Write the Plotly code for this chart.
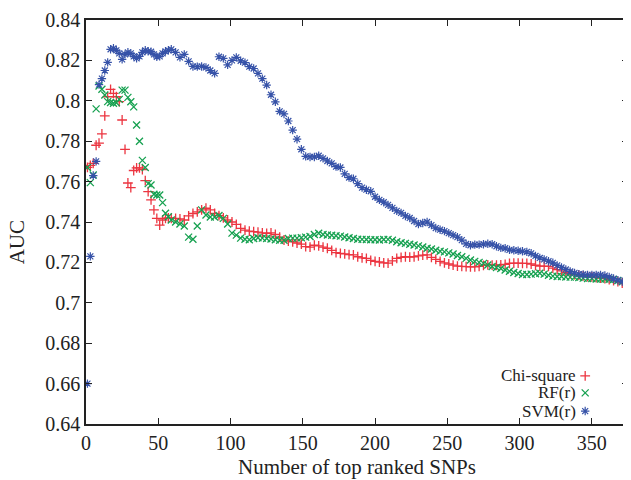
import plotly.graph_objects as go

# x positions of the sampled points (number of top ranked SNPs)
snps = list(range(1, 60, 2)) + list(range(62, 375, 3))

chi_square = [
    0.767, 0.768, 0.769, 0.778, 0.779, 0.7836, 0.7925, 0.802, 0.8057, 0.8037,
    0.802, 0.7996, 0.7905, 0.776, 0.7593, 0.757, 0.7655, 0.7668, 0.7668, 0.766,
    0.7605, 0.755, 0.751, 0.746, 0.7418, 0.7385, 0.741, 0.7418, 0.742, 0.7418,
    # step 3 from 62
    0.7418, 0.7415, 0.741, 0.743, 0.7442, 0.745, 0.746, 0.7468, 0.746, 0.7443,
    0.7432, 0.742, 0.741, 0.740, 0.7388, 0.7368, 0.736, 0.7355, 0.7352, 0.735,
    0.7346, 0.7344, 0.7346, 0.7338, 0.7325, 0.7311, 0.7305, 0.7302, 0.7296, 0.729,
    0.7278, 0.7276, 0.7285, 0.7282, 0.7276, 0.727, 0.726, 0.7248, 0.7245, 0.7242,
    0.7238, 0.7237, 0.7228, 0.7222, 0.722, 0.721, 0.7205, 0.7202, 0.7198, 0.7196,
    0.7208, 0.722, 0.7225, 0.7228, 0.7226, 0.7228, 0.7232, 0.7236, 0.7237, 0.7225,
    0.7215, 0.7205, 0.7198, 0.7192, 0.7187, 0.7182, 0.718, 0.7179, 0.7178, 0.7178,
    0.718, 0.7185, 0.7188, 0.7187, 0.7186, 0.7188, 0.719, 0.7195, 0.7196, 0.7196,
    0.7195, 0.7195, 0.7192, 0.7186, 0.7182, 0.7182, 0.718, 0.7172, 0.7164, 0.7158,
    0.715, 0.7143, 0.714, 0.7137, 0.7133, 0.713, 0.7128, 0.7125, 0.7122, 0.712,
    0.7115, 0.711, 0.7105, 0.7098, 0.7093,
]

rf_r = [
    0.767, 0.7595, 0.7633, 0.796, 0.8073, 0.8057, 0.8029, 0.7996, 0.7992, 0.7988,
    0.799, 0.8007, 0.8053, 0.8053, 0.8017, 0.7995, 0.797, 0.788, 0.780, 0.7705,
    0.767, 0.759, 0.7583, 0.7537, 0.7534, 0.7534, 0.7496, 0.7443, 0.7426, 0.741,
    # step 3 from 62
    0.740, 0.739, 0.738, 0.7325, 0.7315, 0.738, 0.746, 0.7435, 0.7425, 0.7425,
    0.7432, 0.7418, 0.739, 0.7345, 0.7335, 0.732, 0.7315, 0.7312, 0.7318, 0.7322,
    0.732, 0.7318, 0.7316, 0.7312, 0.731, 0.731, 0.7318, 0.732, 0.732, 0.7322,
    0.7325, 0.7328, 0.7338, 0.7344, 0.7338, 0.7336, 0.7334, 0.7332, 0.733, 0.7326,
    0.7322, 0.7318, 0.7315, 0.7314, 0.7313, 0.7312, 0.7312, 0.7311, 0.7313, 0.7314,
    0.731, 0.7302, 0.7297, 0.7294, 0.729, 0.7286, 0.7282, 0.7276, 0.727, 0.7266,
    0.726, 0.7255, 0.7252, 0.7247, 0.7242, 0.7234, 0.7228, 0.722, 0.7212, 0.7205,
    0.72, 0.7195, 0.7187, 0.718, 0.7175, 0.717, 0.7162, 0.7156, 0.715, 0.7145,
    0.714, 0.714, 0.7142, 0.7144, 0.7146, 0.7142, 0.7136, 0.7132, 0.713, 0.713,
    0.7128, 0.7127, 0.7127, 0.7125, 0.7122, 0.712, 0.712, 0.7118, 0.7118, 0.7118,
    0.7117, 0.7115, 0.711, 0.7104, 0.7100,
]

svm_r = [
    0.660, 0.723, 0.763, 0.770, 0.808, 0.811, 0.815, 0.819, 0.8255, 0.826,
    0.825, 0.8235, 0.8205, 0.823, 0.824, 0.8235, 0.822, 0.821, 0.822, 0.824,
    0.825, 0.8245, 0.8243, 0.823, 0.8218, 0.822, 0.8235, 0.8245, 0.825, 0.8255,
    # step 3 from 62
    0.824, 0.8215, 0.823, 0.8195, 0.817, 0.8169, 0.817, 0.8165, 0.815, 0.8136,
    0.8218, 0.821, 0.8178, 0.820, 0.8215, 0.8198, 0.8189, 0.8169, 0.816, 0.8136,
    0.811, 0.8078, 0.803, 0.7995, 0.7948, 0.7935, 0.790, 0.7855, 0.781, 0.776,
    0.7725, 0.7722, 0.7722, 0.7728, 0.7715, 0.7702, 0.769, 0.7674, 0.767, 0.7638,
    0.762, 0.7614, 0.759, 0.757, 0.756, 0.7552, 0.7525, 0.751, 0.7498, 0.7485,
    0.747, 0.7455, 0.7445, 0.743, 0.742, 0.7405, 0.739, 0.7395, 0.740, 0.7385,
    0.737, 0.7362, 0.7355, 0.7345, 0.7335, 0.7325, 0.731, 0.7292, 0.7285, 0.7288,
    0.7288, 0.729, 0.7292, 0.729, 0.728, 0.7272, 0.727, 0.7262, 0.726, 0.7258,
    0.7255, 0.7252, 0.7245, 0.7232, 0.7222, 0.7215, 0.7206, 0.7198, 0.7185, 0.7175,
    0.7165, 0.7155, 0.7148, 0.7142, 0.714, 0.7138, 0.7138, 0.7138, 0.7138, 0.7135,
    0.7128, 0.712, 0.7112, 0.7105, 0.710,
]

series_names = ["Chi-square", "RF(r)", "SVM(r)"]
x_ticks = [0, 50, 100, 150, 200, 250, 300, 350]
y_ticks = [0.64, 0.66, 0.68, 0.70, 0.72, 0.74, 0.76, 0.78, 0.80, 0.82, 0.84]
y_tick_text = ["0.64", "0.66", "0.68", "0.7", "0.72", "0.74", "0.76", "0.78", "0.8", "0.82", "0.84"]

assert len(snps) == len(chi_square) == len(rf_r) == len(svm_r)

RED = "#ec3540"
GREEN = "#16a150"
BLUE = "#3652a8"
FONT = "Liberation Serif"

styles = [
    dict(symbol="cross-thin", size=7, color=RED, width=1.3),
    dict(symbol="x-thin", size=7, color=GREEN, width=1.3),
    dict(symbol="asterisk", size=7, color=BLUE, width=1.2),
]

fig = go.Figure()
for name, vals, st in zip(series_names, [chi_square, rf_r, svm_r], styles):
    fig.add_trace(go.Scatter(
        x=snps, y=vals, mode="markers", name=name, showlegend=False,
        marker=dict(symbol=st["symbol"], size=st["size"], color=st["color"],
                    line=dict(color=st["color"], width=st["width"])),
    ))

# legend: markers on an overlay axis in plot-fraction units, text as annotations
leg_y = [0.119, 0.077, 0.032]
for name, st, yy in zip(series_names, styles, leg_y):
    fig.add_trace(go.Scatter(
        x=[0.921], y=[yy], xaxis="x2", yaxis="y2", mode="markers", showlegend=False,
        hoverinfo="skip",
        marker=dict(symbol=st["symbol"], size=st["size"], color=st["color"],
                    line=dict(color=st["color"], width=st["width"])),
    ))
    fig.add_annotation(x=0.908, y=yy, xref="x2", yref="y2", text=name,
                       showarrow=False, xanchor="right", yanchor="middle",
                       font=dict(family=FONT, size=17, color="#222"))

axis_common = dict(showline=True, linecolor="#222", linewidth=1.5, mirror="ticks",
                   ticks="inside", ticklen=6, tickwidth=1.2, tickcolor="#222",
                   showgrid=False, zeroline=False,
                   tickfont=dict(family=FONT, size=20, color="#222"))

# the page adds an 8px body margin, so the figure is sized to fit the window
fig.update_layout(
    width=623, height=472,
    margin=dict(l=78, r=1, t=12, b=56),
    paper_bgcolor="white", plot_bgcolor="white",
    xaxis=dict(range=[0, 375], tickvals=x_ticks, **axis_common),
    yaxis=dict(range=[0.64, 0.84], tickvals=y_ticks, ticktext=y_tick_text, **axis_common),
    xaxis2=dict(range=[0, 1], overlaying="x", visible=False),
    yaxis2=dict(range=[0, 1], overlaying="y", visible=False),
)

fig.add_annotation(x=0.5, y=-0.106, xref="paper", yref="paper", yanchor="middle",
                   text="Number of top ranked SNPs", showarrow=False,
                   font=dict(family=FONT, size=21, color="#222"))
fig.add_annotation(x=-0.127, y=0.45, xref="paper", yref="paper", textangle=-90,
                   xanchor="center", yanchor="middle",
                   text="AUC", showarrow=False,
                   font=dict(family=FONT, size=21, color="#222"))

fig.write_html("out.html")
